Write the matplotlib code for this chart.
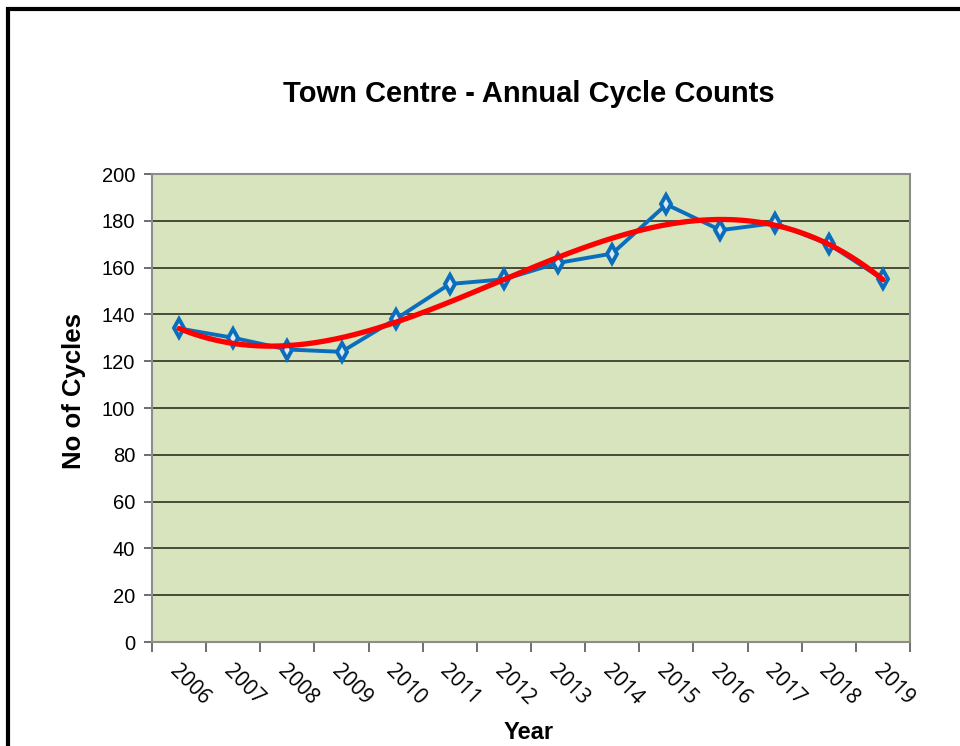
import matplotlib
matplotlib.use("Agg")
import matplotlib.pyplot as plt
import numpy as np
from matplotlib.patches import Rectangle

years = ['2006', '2007', '2008', '2009', '2010', '2011', '2012',
         '2013', '2014', '2015', '2016', '2017', '2018', '2019']
counts = [134, 130, 125, 124, 138, 153, 155, 162, 166, 187, 176, 179, 170, 155]
y_ticks = [0, 20, 40, 60, 80, 100, 120, 140, 160, 180, 200]

narrow = ['DejaVu Sans Condensed', 'Liberation Sans', 'DejaVu Sans']
arial = ['Liberation Sans', 'DejaVu Sans']

fig = plt.figure(figsize=(9.6, 7.46), dpi=100)
ax = fig.add_axes([152/960, 1 - 642/746, 758/960, 468/746])
ax.set_facecolor('#D7E4BD')

x = np.arange(len(years))

# gridlines
ax.set_yticks(y_ticks)
ax.set_ylim(0, 200)
ax.grid(axis='y', color='#474a3c', lw=1.4)
ax.set_axisbelow(True)

# trend line (3rd order polynomial like Excel)
coef = np.polyfit(x, counts, 3)
xs = np.linspace(0, len(years) - 1, 200)
ax.plot(x, counts, color='#0A6EBD', lw=2.8, marker='d', markersize=9,
        markerfacecolor='#DCE9F5', markeredgecolor='#0A6EBD',
        markeredgewidth=2.8, zorder=3)
ax.plot(xs, np.polyval(coef, xs), color='#FF0000', lw=3.8, zorder=4,
        solid_capstyle='round')

ax.set_xlim(-0.5, len(years) - 0.5)
ax.set_xticks(np.arange(len(years) + 1) - 0.5)
ax.set_xticklabels([])
ax.tick_params(axis='x', length=7, width=1.2, color='#555555', direction='out')
ax.tick_params(axis='y', length=6, width=1.2, color='#555555', direction='out',
               labelsize=14.5, pad=6)
for lbl in ax.get_yticklabels():
    lbl.set_family(arial)

for i, yr in enumerate(years):
    ax.text(i - 0.12, -0.055, yr, transform=ax.get_xaxis_transform(),
            rotation=-45, rotation_mode='anchor', ha='left', va='center',
            fontsize=15, family=['Open Sans', 'DejaVu Sans'])

for s in ax.spines.values():
    s.set_color('#8c8c8c')
    s.set_linewidth(1.5)

fig.text(529/960, 1 - 94/746, 'Town Centre - Annual Cycle Counts',
         ha='center', va='center', fontsize=21, fontweight='bold', family=narrow)
fig.text(74/960, 1 - 391/746, 'No of Cycles', rotation=90, ha='center',
         va='center', fontsize=18.5, fontweight='bold', family=arial)
fig.text(529/960, 1 - 721/746, 'Year', ha='center', va='top',
         fontsize=17, fontweight='bold', family=narrow)

fig.add_artist(Rectangle((8/960, -0.2), 1.3, 1.2 - 9/746, fill=False,
                         lw=3, edgecolor='black', transform=fig.transFigure))

fig.savefig('out.png', dpi=100)
